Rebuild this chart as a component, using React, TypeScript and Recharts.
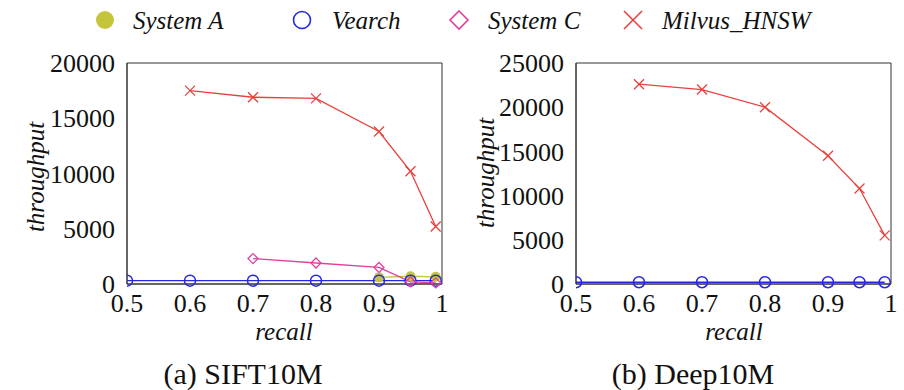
import { LineChart, Line, XAxis, YAxis, ReferenceArea } from "recharts";

// recall points per series
const recallAll = [0.5, 0.6, 0.7, 0.8, 0.9, 0.95, 0.99];
const recallA = [0.9, 0.95, 0.99];
const recallC = [0.7, 0.8, 0.9, 0.95, 0.99];
const recallMilvus = [0.6, 0.7, 0.8, 0.9, 0.95, 0.99];

// (a) SIFT10M
const siftSystemA = [600, 700, 650];
const siftVearch = [300, 300, 300, 300, 300, 300, 300];
const siftSystemC = [2300, 1900, 1500, 200, 100];
const siftMilvus = [17500, 16900, 16800, 13800, 10200, 5200];

// (b) Deep10M
const deepVearch = [200, 200, 200, 200, 200, 200, 200];
const deepMilvus = [22600, 22000, 20000, 14500, 10800, 5500];

const xTicks = [0.5, 0.6, 0.7, 0.8, 0.9, 1];
const siftYTicks = [0, 5000, 10000, 15000, 20000];
const deepYTicks = [0, 5000, 10000, 15000, 20000, 25000];

const COLORS = {
  systemA: "#c5c53c",
  vearch: "#2626e6",
  systemC: "#e2409c",
  milvus: "#e8413c",
};

const FONT = "Liberation Serif, serif";
const AXIS = "#333";

const toRows = (xs: number[], ys: number[]) => xs.map((x, i) => ({ recall: x, value: ys[i] }));

const FilledDot = (props: any) => (
  <circle key={`a-${props.index}`} cx={props.cx} cy={props.cy} r={5} fill={COLORS.systemA} />
);
const RingDot = (props: any) => (
  <circle key={`v-${props.index}`} cx={props.cx} cy={props.cy} r={5.5} fill="none" stroke={COLORS.vearch} strokeWidth={1.5} />
);
const DiamondDot = (props: any) => {
  const { cx, cy } = props;
  const s = 5;
  return (
    <polygon
      key={`c-${props.index}`}
      points={`${cx},${cy - s} ${cx + s},${cy} ${cx},${cy + s} ${cx - s},${cy}`}
      fill="none"
      stroke={COLORS.systemC}
      strokeWidth={1.3}
    />
  );
};
const CrossDot = (props: any) => {
  const { cx, cy } = props;
  const s = 5;
  return (
    <g key={`m-${props.index}`} stroke={COLORS.milvus} strokeWidth={1.3}>
      <line x1={cx - s} y1={cy - s} x2={cx + s} y2={cy + s} />
      <line x1={cx - s} y1={cy + s} x2={cx + s} y2={cy - s} />
    </g>
  );
};

const tickStyle = { fill: "#111", fontSize: 26, fontFamily: FONT };

type PanelProps = {
  left: number;
  marginLeft: number;
  marginRight: number;
  yMax: number;
  yTicks: number[];
  children: React.ReactNode;
};

function Panel({ left, marginLeft, marginRight, yMax, yTicks, children }: PanelProps) {
  return (
    <div style={{ position: "absolute", left, top: 0, fontFamily: FONT }}>
      <LineChart width={452} height={320} margin={{ top: 63, right: marginRight, bottom: 6, left: marginLeft }}>
        <XAxis
          dataKey="recall"
          type="number"
          domain={[0.5, 1]}
          ticks={xTicks}
          allowDataOverflow
          tickLine={false}
          tickMargin={4}
          height={30}
          axisLine={{ stroke: AXIS }}
          tick={tickStyle}
        />
        <YAxis
          type="number"
          domain={[0, yMax]}
          ticks={yTicks}
          tickLine={false}
          tickMargin={6}
          width={60}
          axisLine={{ stroke: AXIS }}
          tick={tickStyle}
        />
        <ReferenceArea x1={0.5} x2={1} y1={0} y2={yMax} fill="none" stroke={AXIS} strokeWidth={1} />
        {children}
      </LineChart>
    </div>
  );
}

const Txt = ({ x, y, size, italic, rotate, children }: any) => (
  <div
    style={{
      position: "absolute",
      left: x,
      top: y,
      transform: `translate(-50%, -50%)${rotate ? " rotate(-90deg)" : ""}`,
      fontSize: size,
      fontStyle: italic ? "italic" : "normal",
      fontFamily: FONT,
      color: "#111",
      whiteSpace: "nowrap",
      lineHeight: 1,
    }}
  >
    {children}
  </div>
);

function LegendBar() {
  return (
    <svg width={904} height={40} style={{ position: "absolute", left: 0, top: 0 }}>
      <circle cx={105} cy={20} r={9} fill={COLORS.systemA} />
      <circle cx={302} cy={20} r={8.5} fill="none" stroke={COLORS.vearch} strokeWidth={1.6} />
      <polygon points="459,11 468,20 459,29 450,20" fill="none" stroke={COLORS.systemC} strokeWidth={1.6} />
      <g stroke={COLORS.milvus} strokeWidth={1.6}>
        <line x1={624} y1={11} x2={642} y2={29} />
        <line x1={624} y1={29} x2={642} y2={11} />
      </g>
      <g fontFamily={FONT} fontStyle="italic" fontSize={25} fill="#111">
        <text x={133} y={29}>System A</text>
        <text x={332} y={29}>Vearch</text>
        <text x={488} y={29}>System C</text>
        <text x={662} y={29}>Milvus_HNSW</text>
      </g>
    </svg>
  );
}

export default function App() {
  return (
    <div style={{ position: "absolute", left: 0, top: 0, width: 904, height: 390, background: "#fff", overflow: "hidden" }}>
      <LegendBar />

      <Panel left={0} marginLeft={67} marginRight={10} yMax={20000} yTicks={siftYTicks}>
        <Line data={toRows(recallA, siftSystemA)} dataKey="value" stroke={COLORS.systemA} strokeWidth={1.3} dot={FilledDot} isAnimationActive={false} />
        <Line data={toRows(recallAll, siftVearch)} dataKey="value" stroke={COLORS.vearch} strokeWidth={1.3} dot={RingDot} isAnimationActive={false} />
        <Line data={toRows(recallC, siftSystemC)} dataKey="value" stroke={COLORS.systemC} strokeWidth={1.3} dot={DiamondDot} isAnimationActive={false} />
        <Line data={toRows(recallMilvus, siftMilvus)} dataKey="value" stroke={COLORS.milvus} strokeWidth={1.3} dot={CrossDot} isAnimationActive={false} />
      </Panel>

      <Panel left={452} marginLeft={64} marginRight={13} yMax={25000} yTicks={deepYTicks}>
        <Line data={toRows(recallAll, deepVearch)} dataKey="value" stroke={COLORS.vearch} strokeWidth={1.3} dot={RingDot} isAnimationActive={false} />
        <Line data={toRows(recallMilvus, deepMilvus)} dataKey="value" stroke={COLORS.milvus} strokeWidth={1.3} dot={CrossDot} isAnimationActive={false} />
      </Panel>

      <Txt x={35} y={177} size={25} italic rotate>throughput</Txt>
      <Txt x={485} y={173} size={25} italic rotate>throughput</Txt>
      <Txt x={284} y={331} size={25} italic>recall</Txt>
      <Txt x={734} y={331} size={25} italic>recall</Txt>
      <Txt x={243} y={374} size={30}>(a) SIFT10M</Txt>
      <Txt x={693} y={374} size={30}>(b) Deep10M</Txt>
    </div>
  );
}
